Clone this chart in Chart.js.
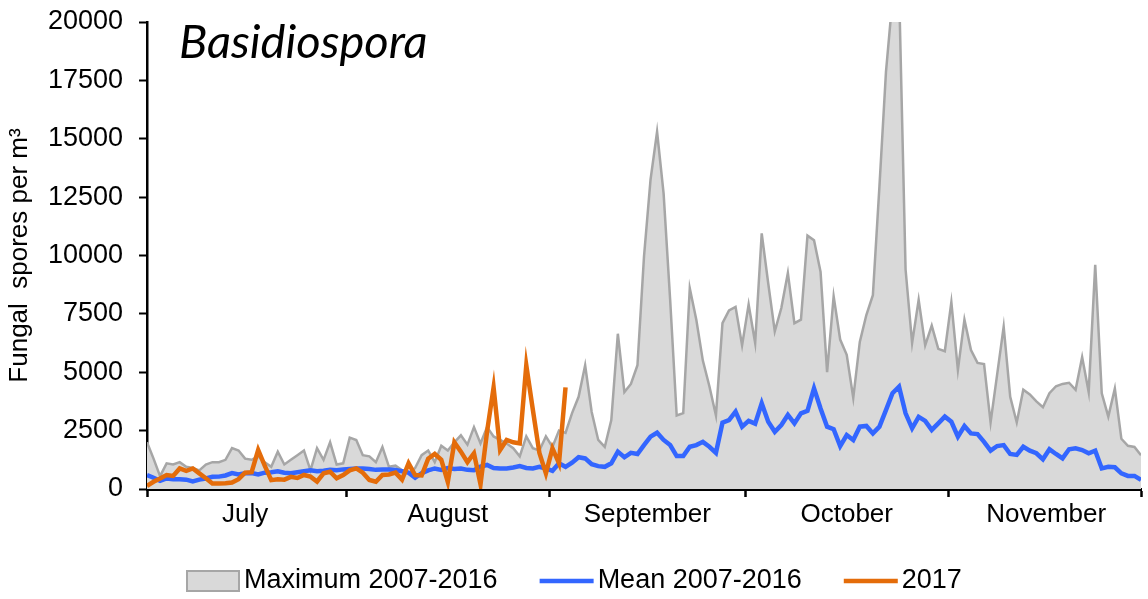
<!DOCTYPE html>
<html>
<head>
<meta charset="utf-8">
<script src="https://cdn.jsdelivr.net/npm/chart.js@4.4.1/dist/chart.umd.min.js"></script>
<style>
  html, body { margin: 0; padding: 0; background: #fff; }
  #wrap { width: 1148px; height: 599px; }
</style>
</head>
<body>
<div id="wrap"><canvas id="chart" width="1148" height="599"></canvas></div>
<script>
// months shown on the x axis and their lengths (days)
const months = ['July', 'August', 'September', 'October', 'November'];
const monthDays = [31, 31, 30, 31, 30];
const yTicks = [0, 2500, 5000, 7500, 10000, 12500, 15000, 17500, 20000];
const chartTitle = 'Basidiospora';
const yTitle = 'Fungal  spores per m³';
const seriesLabels = ['Maximum 2007-2016', 'Mean 2007-2016', '2017'];

// daily values, 1 July -> 30 November
const maxValues = [
  2000, 1300, 550, 1100, 1050, 1150, 950, 900, 800, 1050,
  1150, 1150, 1250, 1750, 1650, 1300, 1250, 1400, 1150, 950,
  1600, 1050, 1250, 1450, 1650, 800, 1750, 1250, 2000, 1050,
  1100, 2200, 2100, 1450, 1400, 1150, 1800, 950, 1000, 800,
  650, 900, 1450, 1650, 1150, 1850, 1650, 2000, 2300, 1900,
  2650, 1950, 2650, 2250, 2100, 1950, 1750, 1400, 2250, 1750,
  1650, 2250, 1800, 2500, 2400, 3250, 3950, 5300, 3300, 2100,
  1800, 2950, 6650, 4150, 4500, 5300, 9950, 13250, 15300, 12650,
  8100, 3150, 3250, 8600, 7250, 5500, 4400, 3150, 7100, 7650,
  7800, 6150, 7900, 6250, 10950, 8800, 6750, 7750, 9250, 7100,
  7250, 10850, 10650, 9300, 5000, 8250, 6400, 5750, 3900, 6300,
  7450, 8300, 12950, 17850, 21000, 21500, 9400, 6250, 8100, 6150,
  7000, 6000, 5900, 8000, 5100, 7250, 5950, 5400, 5350, 2850,
  4900, 6950, 3950, 2850, 4250, 4050, 3750, 3500, 4100, 4400,
  4500, 4550, 4250, 5650, 4150, 9600, 4100, 3100, 4300, 2150,
  1850, 1800, 1450
];
const meanValues = [
  600, 480, 350, 450, 420, 420, 400, 320, 400, 450,
  520, 530, 580, 680, 620, 670, 680, 620, 700, 720,
  760, 700, 680, 720, 760, 800, 760, 780, 820, 800,
  840, 860, 880, 880, 860, 820, 840, 830, 810, 760,
  700, 480, 680, 800, 880, 820, 900, 860, 880, 820,
  800, 960, 1030, 900, 880, 880, 920, 980, 900, 880,
  950, 880, 780, 1100, 950, 1130, 1360, 1310, 1060, 980,
  950, 1100, 1600, 1360, 1550, 1500, 1880, 2240, 2410, 2100,
  1880, 1410, 1410, 1810, 1880, 2020, 1810, 1550, 2840, 2950,
  3310, 2670, 2920, 2800, 3670, 2880, 2450, 2740, 3170, 2810,
  3240, 3350, 4310, 3450, 2670, 2560, 1840, 2310, 2100, 2670,
  2700, 2380, 2670, 3380, 4100, 4380, 3240, 2600, 3090, 2920,
  2530, 2810, 3100, 2880, 2240, 2700, 2380, 2350, 2020, 1640,
  1840, 1880, 1500, 1460, 1810, 1640, 1530, 1270, 1700, 1500,
  1310, 1700, 1740, 1670, 1530, 1640, 880, 950, 930, 670,
  560, 560, 390
];
const values2017 = [
  130, 310, 450, 600, 560, 880, 780, 880, 670, 460,
  240, 240, 250, 280, 420, 700, 720, 1670, 1000, 380,
  420, 400, 520, 470, 600, 530, 320, 670, 740, 460,
  600, 800, 880, 700, 390, 310, 600, 620, 700, 400,
  1100, 600, 580, 1300, 1500, 1250, 300, 2000, 1600, 1150,
  1530, 200, 2450, 4350, 1670, 2100, 2000, 1950, 5300, 3400,
  1550, 670, 1740, 1100, 4350
];

const FONT = "'Liberation Sans', Arial, sans-serif";

// month boundaries and label centres in day units
const boundaries = [0];
const labelPos = {};
let start = 0;
monthDays.forEach((n, i) => {
  labelPos[start + n / 2 - 0.5] = months[i];
  start += n;
  boundaries.push(start - 0.5);
});
boundaries[boundaries.length - 1] = maxValues.length - 1;
const xTickValues = boundaries.concat(Object.keys(labelPos).map(Number)).sort((a, b) => a - b);

const toPoints = arr => arr.map((v, i) => ({ x: i, y: v }));

const overlay = {
  id: 'overlay',
  afterDraw(chart) {
    const ctx = chart.ctx;
    ctx.save();
    ctx.fillStyle = '#000';
    ctx.font = "italic 47px Lato, 'Open Sans', sans-serif";
    ctx.textBaseline = 'alphabetic';
    ctx.fillText(chartTitle, 179, 58);

    // legend row
    ctx.font = '27px ' + FONT;
    ctx.textBaseline = 'middle';
    const ly = 581;
    const order = [2, 1, 0]; // gray, blue, orange (by dataset index)
    let x = 186;
    order.forEach(di => {
      const ds = chart.data.datasets[di];
      if (ds.fill) {
        ctx.fillStyle = ds.backgroundColor;
        ctx.fillRect(x + 1, ly - 10, 52, 20);
        ctx.strokeStyle = ds.borderColor;
        ctx.lineWidth = 2;
        ctx.strokeRect(x + 1, ly - 10, 52, 20);
      } else {
        ctx.strokeStyle = ds.borderColor;
        ctx.lineWidth = 4.5;
        ctx.beginPath();
        ctx.moveTo(x, ly);
        ctx.lineTo(x + 54, ly);
        ctx.stroke();
      }
      x += 58;
      ctx.fillStyle = '#000';
      ctx.fillText(ds.label, x, ly);
      x += ctx.measureText(ds.label).width + 42;
    });
    ctx.restore();
  }
};

new Chart(document.getElementById('chart'), {
  type: 'line',
  data: {
    datasets: [
      {
        label: seriesLabels[2],
        data: toPoints(values2017),
        borderColor: 'rgb(228, 108, 10)',
        borderWidth: 4.5,
        pointRadius: 0,
        fill: false,
        order: 1
      },
      {
        label: seriesLabels[1],
        data: toPoints(meanValues),
        borderColor: 'rgb(51, 102, 255)',
        borderWidth: 4.5,
        pointRadius: 0,
        fill: false,
        order: 2
      },
      {
        label: seriesLabels[0],
        data: toPoints(maxValues),
        borderColor: 'rgb(166, 166, 166)',
        backgroundColor: 'rgb(217, 217, 217)',
        borderWidth: 2.5,
        pointRadius: 0,
        fill: 'origin',
        order: 3
      }
    ]
  },
  options: {
    responsive: false,
    animation: false,
    layout: { padding: { top: 22, right: 7, left: 0, bottom: 0 } },
    plugins: {
      legend: { display: false },
      tooltip: { enabled: false }
    },
    scales: {
      x: {
        type: 'linear',
        min: 0,
        max: maxValues.length - 1,
        afterBuildTicks: scale => { scale.ticks = xTickValues.map(v => ({ value: v })); },
        afterFit: scale => { scale.height = 110; },
        border: { color: '#000', width: 3 },
        grid: {
          drawOnChartArea: false,
          tickLength: 8,
          tickWidth: 2.5,
          tickColor: ctx => boundaries.includes(ctx.tick.value) ? '#000' : 'rgba(0,0,0,0)'
        },
        ticks: {
          autoSkip: false,
          maxRotation: 0,
          padding: 2,
          color: '#000',
          font: { family: FONT, size: 26 },
          callback: value => labelPos[value] || ''
        }
      },
      y: {
        min: 0,
        max: 20000,
        afterBuildTicks: scale => { scale.ticks = yTicks.map(v => ({ value: v })); },
        afterFit: scale => {
          scale.width = 147;
          scale.paddingTop = 0;
          scale.paddingBottom = 0;
        },
        border: { color: '#000', width: 2.5 },
        grid: { drawOnChartArea: false, tickLength: 8, tickWidth: 2, tickColor: '#000' },
        ticks: {
          padding: 16,
          color: '#000',
          font: { family: FONT, size: 27 },
          callback: value => String(value)
        },
        title: {
          display: true,
          text: yTitle,
          color: '#000',
          font: { family: FONT, size: 26 },
          padding: { top: 4, bottom: 0 }
        }
      }
    }
  },
  plugins: [overlay]
});
</script>
</body>
</html>
